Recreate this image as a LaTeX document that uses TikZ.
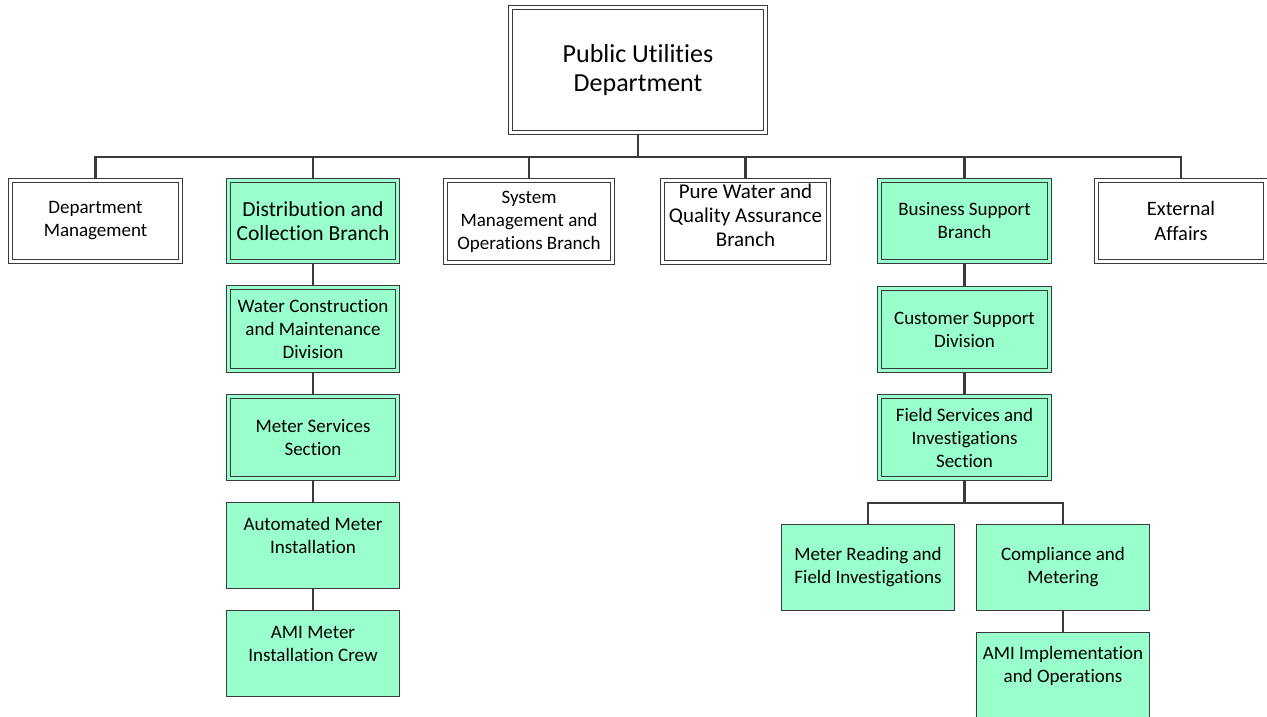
\documentclass[tikz,border=0pt]{standalone}
\usepackage{fontspec}
\setmainfont{Carlito}[Ligatures={NoCommon}]
\usetikzlibrary{backgrounds}
\definecolor{linegray}{HTML}{3A3A3A}
\definecolor{mint}{HTML}{99FFCC}
\begin{document}
\begin{tikzpicture}[x=1pt,y=-1pt,
  txt/.style={align=center,text=black,font=\fontsize{19}{23}\selectfont},
  dbox/.style={txt,draw=linegray,line width=1.4pt,double distance=2.6pt,
    inner sep=0pt,minimum width=#1-5.4pt},
  dwhite/.style={dbox=#1,fill=white,double=white},
  dmint/.style={dbox=#1,fill=mint,double=mint},
  sbox/.style={txt,draw=linegray,line width=1.4pt,fill=mint,inner sep=0pt,
    minimum width=#1-1.4pt,minimum height=85.6pt},
  conn/.style={draw=linegray,line width=2.3pt},
  tall/.style={minimum height=#1-5.4pt}]
\clip (0,0) rectangle (1267,717);

% head of the department
\node[dwhite=260pt,tall=130pt,font=\fontsize{26}{29}\selectfont] (top) at (638,70)
  {Public Utilities\\Department};

% branches
\node[dwhite=175pt,tall=86pt] (dm) at (95.5,221) {Department\\Management};
\node[dmint=174pt,tall=86pt,font=\fontsize{21.5}{24}\selectfont] (dc) at (313,221)
  {Distribution and\\Collection Branch};
\node[dwhite=172pt,tall=87pt] (sm) at (529,221.5) {System\\Management and\\Operations Branch};
\node[dwhite=171pt,tall=87pt,
  label={[txt,font=\fontsize{21}{24}\selectfont,yshift=6pt]center:{Pure Water and\\Quality Assurance\\Branch}}]
  (pw) at (745.5,221.5) {};
\node[dmint=175pt,tall=86pt] (bs) at (964.5,221) {Business Support\\Branch};
\node[dwhite=174pt,tall=86pt,font=\fontsize{20.5}{25}\selectfont] (ea) at (1181,221)
  {External\\Affairs};

% distribution and collection column
\node[dmint=174pt,tall=88pt] (wc) at (313,329) {Water Construction\\and Maintenance\\Division};
\node[dmint=174pt,tall=87pt] (ms) at (313,437.5) {Meter Services\\Section};
\node[sbox=174pt,label={[txt,yshift=10pt]center:{Automated Meter\\Installation}}]
  (am) at (313,545.5) {};
\node[sbox=174pt,label={[txt,yshift=10pt]center:{AMI Meter\\Installation Crew}}]
  (ami) at (313,653.5) {};

% business support column
\node[dmint=175pt,tall=87pt] (cs) at (964.5,329.5) {Customer Support\\Division};
\node[dmint=175pt,tall=87pt] (fs) at (964.5,437.5) {Field Services and\\Investigations\\Section};
\node[sbox=174pt] (mr) at (868,567.5) {Meter Reading and\\Field Investigations};
\node[sbox=174pt] (cm) at (1063,567.5) {Compliance and\\Metering};
\node[sbox=174pt,label={[txt,yshift=10pt]center:{AMI Implementation\\and Operations}}]
  (ai) at (1063,675.5) {};

% connectors, drawn behind the boxes
\coordinate (bus) at (638,157);
\coordinate (fsbus) at (964.5,503);
\begin{scope}[on background layer]
  \fill[white] (0,0) rectangle (1267,717);
  \draw[conn] (top.south) -- (bus);
  \foreach \n in {dm,dc,sm,pw,bs,ea} \draw[conn] (bus) -| (\n.north);
  \draw[conn] (dc) -- (wc);
  \draw[conn] (wc) -- (ms);
  \draw[conn] (ms) -- (am);
  \draw[conn] (am) -- (ami);
  \draw[conn] (bs) -- (cs);
  \draw[conn] (cs) -- (fs);
  \draw[conn] (fs.south) -- (fsbus);
  \draw[conn] (fsbus) -| (mr.north);
  \draw[conn] (fsbus) -| (cm.north);
  \draw[conn] (cm) -- (ai);
\end{scope}
\end{tikzpicture}
\end{document}
